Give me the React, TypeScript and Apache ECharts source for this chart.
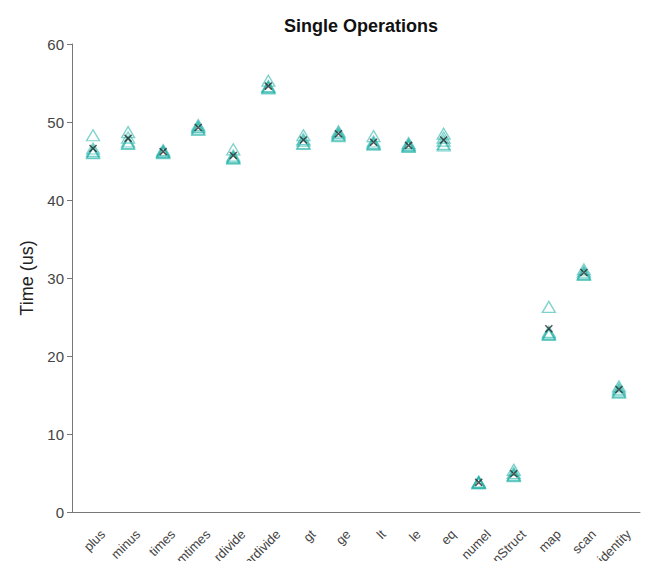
import React, { useEffect, useRef } from "react";
import * as echarts from "echarts";

const categories = [
  "plus", "minus", "times", "mtimes", "rdivide", "mrdivide", "gt", "ge",
  "lt", "le", "eq", "numel", "flattenStruct", "map", "scan", "identity",
];

const trial1 = [48.3, 48.7, 46.4, 49.6, 46.5, 55.3, 48.3, 48.8, 48.2, 47.3, 48.5, 3.9, 5.4, 26.3, 31.1, 16.1];
const trial2 = [46.6, 48.0, 46.2, 49.3, 45.7, 54.6, 47.6, 48.4, 47.5, 47.0, 48.0, 3.8, 5.0, 23.1, 30.8, 15.8];
const trial3 = [46.3, 47.5, 46.1, 49.1, 45.5, 54.4, 47.3, 48.2, 47.2, 46.8, 47.6, 3.7, 4.7, 22.9, 30.6, 15.4];
const trial4 = [46.1, 47.3, 46.0, 49.0, 45.3, 54.3, 47.2, 48.3, 47.1, 46.9, 47.2, 3.7, 4.6, 22.8, 30.4, 15.3];
const trial5 = [46.0, 47.2, 46.2, 49.4, 45.4, 54.5, 47.8, 48.6, 47.3, 47.1, 47.0, 3.8, 4.8, 22.7, 30.5, 15.6];
const means = [46.6, 47.9, 46.2, 49.3, 45.7, 54.6, 47.7, 48.5, 47.4, 47.0, 47.7, 3.8, 4.9, 23.5, 30.7, 15.7];

const yTicks = [0, 10, 20, 30, 40, 50, 60];

export default function App() {
  const ref = useRef<HTMLDivElement>(null);
  useEffect(() => {
    if (!ref.current) return;
    const chart = echarts.init(ref.current, undefined, { renderer: "svg" });
    const trials = [trial1, trial2, trial3, trial4, trial5];
    const triSeries = trials.map((t, k) => ({
      type: "scatter",
      name: "trial" + (k + 1),
      symbol: "triangle",
      symbolSize: [13, 11],
      itemStyle: { color: "rgba(0,0,0,0)", borderColor: "rgba(38,180,170,0.75)", borderWidth: 1.3 },
      data: t.map((v, i) => [i + 1, v]),
      z: 2,
    }));
    const labelPos = categories.map((_, i) => i + 1.28);
    chart.setOption({
      animation: false,
      title: {
        text: "Single Operations",
        left: 356,
        top: 12,
        textAlign: "center",
        textStyle: { fontFamily: "Liberation Sans, Arial, sans-serif", fontSize: 18, fontWeight: "bold", color: "#111" },
      },
      grid: { left: 72, top: 44, right: 15, bottom: 49, containLabel: false, outerBoundsMode: "none" },
      xAxis: {
        type: "value",
        min: 0.4,
        max: 16.6,
        axisLine: { show: true, onZero: false, lineStyle: { color: "#777", width: 1 } },
        axisTick: { show: false },
        splitLine: { show: false },
        axisLabel: {
          customValues: labelPos,
          rotate: 45,
          margin: 20,
          fontSize: 13,
          color: "#444",
          fontFamily: "Liberation Sans, Arial, sans-serif",
          formatter: (v: number) => categories[Math.round(v - 1.28)] ?? "",
        },
      },
      yAxis: {
        type: "value",
        min: 0,
        max: 60,
        interval: 10,
        name: "Time (us)",
        nameLocation: "middle",
        nameGap: 36,
        nameTextStyle: { fontSize: 18, color: "#222", fontFamily: "Liberation Sans, Arial, sans-serif" },
        axisLine: { show: true, lineStyle: { color: "#777", width: 1 } },
        axisTick: { show: true, length: 5, lineStyle: { color: "#777" } },
        splitLine: { show: false },
        axisLabel: {
          fontSize: 15,
          color: "#444",
          margin: 8,
          fontFamily: "Liberation Sans, Arial, sans-serif",
          formatter: (v: number) => (yTicks.includes(v) ? String(v) : ""),
        },
      },
      series: [
        ...triSeries,
        {
          type: "scatter",
          name: "mean",
          symbol: "path://M0,0L10,10M10,0L0,10",
          symbolSize: 7,
          itemStyle: { color: "none", borderColor: "#2a2a2a", borderWidth: 1.5 },
          data: means.map((v, i) => [i + 1, v]),
          z: 3,
        },
      ],
    });
    return () => chart.dispose();
  }, []);
  return (
    <div
      ref={ref}
      style={{ position: "fixed", left: 0, top: 0, width: 655, height: 561, background: "#fff" }}
    />
  );
}
